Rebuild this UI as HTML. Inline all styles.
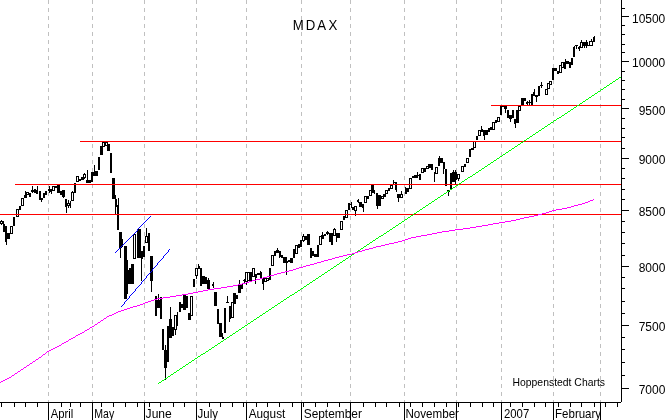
<!DOCTYPE html>
<html><head><meta charset="utf-8"><title>MDAX</title>
<style>html,body{margin:0;padding:0;background:#fff;overflow:hidden}svg{display:block}text{font-family:"Liberation Sans",Arial,sans-serif;fill:#000}</style></head><body>
<svg width="669" height="420" viewBox="0 0 669 420">
<rect x="0" y="0" width="669" height="420" fill="#fff"/>
<g shape-rendering="crispEdges" stroke="#c0c0c0" stroke-width="1" stroke-dasharray="4 4">
<line x1="48.5" y1="0" x2="48.5" y2="402"/>
<line x1="92.5" y1="0" x2="92.5" y2="402"/>
<line x1="144.5" y1="0" x2="144.5" y2="402"/>
<line x1="196.5" y1="0" x2="196.5" y2="402"/>
<line x1="246.5" y1="0" x2="246.5" y2="402"/>
<line x1="301.5" y1="0" x2="301.5" y2="402"/>
<line x1="350.5" y1="0" x2="350.5" y2="402"/>
<line x1="404.5" y1="0" x2="404.5" y2="402"/>
<line x1="456.5" y1="0" x2="456.5" y2="402"/>
<line x1="501.5" y1="0" x2="501.5" y2="402"/>
<line x1="553.5" y1="0" x2="553.5" y2="402"/>
<line x1="600.5" y1="0" x2="600.5" y2="402"/>
</g>
<g shape-rendering="crispEdges" fill="#000">
<rect x="0" y="221" width="3" height="3"/>
<rect x="1" y="220" width="1" height="5"/>
<rect x="3" y="224" width="2" height="8"/>
<rect x="3" y="221" width="1" height="11"/>
<rect x="5" y="226" width="2" height="16"/>
<rect x="6" y="226" width="1" height="19"/>
<rect x="7" y="233" width="3" height="6"/>
<rect x="8" y="233" width="1" height="6"/>
<rect x="10" y="226" width="3" height="8"/>
<rect x="11" y="226" width="1" height="8"/>
<rect x="13" y="217" width="2" height="9"/>
<rect x="14" y="217" width="1" height="9"/>
<rect x="16" y="209" width="3" height="8"/>
<rect x="17" y="209" width="1" height="8"/>
<rect x="19" y="206" width="2" height="4"/>
<rect x="20" y="206" width="1" height="4"/>
<rect x="21" y="198" width="3" height="8"/>
<rect x="22" y="198" width="1" height="8"/>
<rect x="24" y="195" width="3" height="3"/>
<rect x="25" y="191" width="1" height="7"/>
<rect x="26" y="192" width="3" height="3"/>
<rect x="27" y="192" width="1" height="3"/>
<rect x="29" y="193" width="2" height="4"/>
<rect x="30" y="193" width="1" height="4"/>
<rect x="31" y="190" width="3" height="2"/>
<rect x="32" y="186" width="1" height="7"/>
<rect x="34" y="189" width="2" height="4"/>
<rect x="34" y="189" width="1" height="4"/>
<rect x="36" y="190" width="2" height="4"/>
<rect x="37" y="186" width="1" height="8"/>
<rect x="39" y="191" width="2" height="9"/>
<rect x="40" y="191" width="1" height="9"/>
<rect x="41" y="198" width="2" height="2"/>
<rect x="41" y="198" width="1" height="4"/>
<rect x="43" y="193" width="2" height="5"/>
<rect x="44" y="193" width="1" height="5"/>
<rect x="45" y="191" width="2" height="4"/>
<rect x="46" y="191" width="1" height="4"/>
<rect x="48" y="189" width="2" height="2"/>
<rect x="49" y="186" width="1" height="7"/>
<rect x="50" y="189" width="2" height="3"/>
<rect x="51" y="189" width="1" height="5"/>
<rect x="52" y="186" width="3" height="5"/>
<rect x="53" y="186" width="1" height="5"/>
<rect x="55" y="186" width="2" height="2"/>
<rect x="56" y="186" width="1" height="2"/>
<rect x="57" y="185" width="3" height="8"/>
<rect x="58" y="185" width="1" height="8"/>
<rect x="60" y="191" width="2" height="4"/>
<rect x="61" y="191" width="1" height="4"/>
<rect x="62" y="190" width="3" height="7"/>
<rect x="63" y="190" width="1" height="8"/>
<rect x="65" y="199" width="2" height="8"/>
<rect x="66" y="199" width="1" height="14"/>
<rect x="67" y="203" width="3" height="3"/>
<rect x="68" y="200" width="1" height="8"/>
<rect x="70" y="201" width="1" height="7"/>
<rect x="71" y="192" width="3" height="9"/>
<rect x="72" y="191" width="1" height="10"/>
<rect x="74" y="183" width="2" height="10"/>
<rect x="75" y="183" width="1" height="10"/>
<rect x="76" y="176" width="3" height="6"/>
<rect x="77" y="176" width="1" height="6"/>
<rect x="79" y="179" width="2" height="2"/>
<rect x="80" y="179" width="1" height="2"/>
<rect x="81" y="177" width="3" height="3"/>
<rect x="82" y="177" width="1" height="3"/>
<rect x="83" y="174" width="3" height="4"/>
<rect x="84" y="173" width="1" height="6"/>
<rect x="86" y="180" width="2" height="3"/>
<rect x="87" y="170" width="1" height="13"/>
<rect x="88" y="180" width="3" height="3"/>
<rect x="89" y="180" width="1" height="3"/>
<rect x="91" y="172" width="2" height="10"/>
<rect x="91" y="172" width="1" height="10"/>
<rect x="93" y="172" width="2" height="4"/>
<rect x="94" y="165" width="1" height="11"/>
<rect x="95" y="171" width="3" height="5"/>
<rect x="96" y="171" width="1" height="5"/>
<rect x="98" y="157" width="2" height="13"/>
<rect x="99" y="157" width="1" height="13"/>
<rect x="100" y="146" width="3" height="9"/>
<rect x="101" y="146" width="1" height="9"/>
<rect x="102" y="142" width="3" height="5"/>
<rect x="103" y="142" width="1" height="5"/>
<rect x="105" y="142" width="3" height="4"/>
<rect x="106" y="142" width="1" height="4"/>
<rect x="107" y="144" width="3" height="7"/>
<rect x="108" y="144" width="1" height="7"/>
<rect x="110" y="153" width="2" height="20"/>
<rect x="110" y="153" width="1" height="20"/>
<rect x="112" y="178" width="3" height="21"/>
<rect x="113" y="178" width="1" height="21"/>
<rect x="115" y="199" width="2" height="8"/>
<rect x="115" y="195" width="1" height="19"/>
<rect x="117" y="205" width="2" height="25"/>
<rect x="118" y="198" width="1" height="32"/>
<rect x="119" y="232" width="3" height="16"/>
<rect x="120" y="232" width="1" height="26"/>
<rect x="122" y="239" width="1" height="8"/>
<rect x="124" y="246" width="3" height="53"/>
<rect x="125" y="246" width="1" height="53"/>
<rect x="126" y="270" width="3" height="14"/>
<rect x="127" y="260" width="1" height="34"/>
<rect x="129" y="268" width="2" height="16"/>
<rect x="129" y="268" width="1" height="16"/>
<rect x="131" y="264" width="3" height="20"/>
<rect x="132" y="264" width="1" height="20"/>
<rect x="133" y="234" width="3" height="25"/>
<rect x="134" y="234" width="1" height="25"/>
<rect x="137" y="229" width="4" height="29"/>
<rect x="139" y="229" width="1" height="29"/>
<rect x="141" y="251" width="2" height="8"/>
<rect x="141" y="251" width="1" height="30"/>
<rect x="143" y="246" width="2" height="11"/>
<rect x="144" y="246" width="1" height="11"/>
<rect x="145" y="236" width="3" height="7"/>
<rect x="146" y="228" width="1" height="15"/>
<rect x="148" y="233" width="2" height="18"/>
<rect x="148" y="233" width="1" height="18"/>
<rect x="150" y="256" width="3" height="25"/>
<rect x="151" y="256" width="1" height="36"/>
<rect x="155" y="296" width="2" height="20"/>
<rect x="156" y="296" width="1" height="20"/>
<rect x="157" y="300" width="3" height="8"/>
<rect x="158" y="294" width="1" height="14"/>
<rect x="160" y="297" width="2" height="22"/>
<rect x="160" y="297" width="1" height="22"/>
<rect x="162" y="329" width="2" height="21"/>
<rect x="163" y="329" width="1" height="21"/>
<rect x="164" y="350" width="3" height="18"/>
<rect x="165" y="345" width="1" height="35"/>
<rect x="167" y="326" width="2" height="36"/>
<rect x="168" y="326" width="1" height="36"/>
<rect x="169" y="319" width="3" height="19"/>
<rect x="170" y="307" width="1" height="31"/>
<rect x="172" y="327" width="2" height="9"/>
<rect x="172" y="327" width="1" height="9"/>
<rect x="174" y="315" width="3" height="15"/>
<rect x="175" y="315" width="1" height="20"/>
<rect x="177" y="312" width="1" height="14"/>
<rect x="179" y="302" width="2" height="10"/>
<rect x="179" y="302" width="1" height="10"/>
<rect x="181" y="304" width="2" height="4"/>
<rect x="182" y="304" width="1" height="4"/>
<rect x="183" y="295" width="3" height="15"/>
<rect x="184" y="295" width="1" height="15"/>
<rect x="186" y="296" width="2" height="12"/>
<rect x="187" y="296" width="1" height="12"/>
<rect x="188" y="313" width="3" height="7"/>
<rect x="189" y="313" width="1" height="7"/>
<rect x="190" y="296" width="3" height="20"/>
<rect x="191" y="296" width="1" height="20"/>
<rect x="193" y="279" width="2" height="8"/>
<rect x="194" y="279" width="1" height="8"/>
<rect x="195" y="268" width="3" height="8"/>
<rect x="196" y="268" width="1" height="11"/>
<rect x="198" y="266" width="2" height="3"/>
<rect x="198" y="264" width="1" height="5"/>
<rect x="200" y="268" width="2" height="18"/>
<rect x="201" y="268" width="1" height="18"/>
<rect x="202" y="276" width="3" height="8"/>
<rect x="203" y="276" width="1" height="8"/>
<rect x="205" y="277" width="2" height="7"/>
<rect x="206" y="277" width="1" height="7"/>
<rect x="207" y="280" width="3" height="9"/>
<rect x="208" y="278" width="1" height="12"/>
<rect x="212" y="284" width="2" height="2"/>
<rect x="213" y="282" width="1" height="6"/>
<rect x="214" y="292" width="3" height="14"/>
<rect x="215" y="292" width="1" height="14"/>
<rect x="217" y="309" width="2" height="15"/>
<rect x="217" y="309" width="1" height="15"/>
<rect x="219" y="323" width="3" height="14"/>
<rect x="220" y="323" width="1" height="14"/>
<rect x="222" y="337" width="2" height="2"/>
<rect x="222" y="333" width="1" height="6"/>
<rect x="224" y="308" width="2" height="25"/>
<rect x="225" y="308" width="1" height="25"/>
<rect x="226" y="302" width="3" height="1"/>
<rect x="227" y="296" width="1" height="7"/>
<rect x="229" y="306" width="2" height="13"/>
<rect x="229" y="306" width="1" height="16"/>
<rect x="231" y="302" width="3" height="16"/>
<rect x="232" y="302" width="1" height="16"/>
<rect x="233" y="293" width="3" height="11"/>
<rect x="234" y="293" width="1" height="11"/>
<rect x="236" y="295" width="2" height="4"/>
<rect x="236" y="295" width="1" height="4"/>
<rect x="238" y="284" width="3" height="9"/>
<rect x="239" y="280" width="1" height="13"/>
<rect x="241" y="284" width="2" height="5"/>
<rect x="241" y="284" width="1" height="5"/>
<rect x="243" y="280" width="2" height="1"/>
<rect x="244" y="279" width="1" height="5"/>
<rect x="245" y="272" width="3" height="10"/>
<rect x="246" y="272" width="1" height="13"/>
<rect x="247" y="272" width="3" height="9"/>
<rect x="248" y="272" width="1" height="9"/>
<rect x="250" y="272" width="2" height="9"/>
<rect x="251" y="272" width="1" height="9"/>
<rect x="252" y="268" width="3" height="9"/>
<rect x="253" y="268" width="1" height="9"/>
<rect x="255" y="274" width="2" height="4"/>
<rect x="255" y="274" width="1" height="10"/>
<rect x="257" y="273" width="3" height="2"/>
<rect x="258" y="273" width="1" height="2"/>
<rect x="260" y="272" width="2" height="6"/>
<rect x="260" y="271" width="1" height="7"/>
<rect x="262" y="278" width="2" height="6"/>
<rect x="263" y="278" width="1" height="12"/>
<rect x="264" y="278" width="3" height="4"/>
<rect x="265" y="278" width="1" height="4"/>
<rect x="266" y="278" width="3" height="3"/>
<rect x="267" y="278" width="1" height="3"/>
<rect x="269" y="268" width="2" height="12"/>
<rect x="270" y="268" width="1" height="12"/>
<rect x="271" y="255" width="3" height="11"/>
<rect x="272" y="255" width="1" height="11"/>
<rect x="274" y="251" width="2" height="5"/>
<rect x="275" y="251" width="1" height="5"/>
<rect x="276" y="250" width="3" height="3"/>
<rect x="277" y="248" width="1" height="5"/>
<rect x="279" y="251" width="2" height="6"/>
<rect x="279" y="251" width="1" height="7"/>
<rect x="281" y="255" width="2" height="3"/>
<rect x="282" y="255" width="1" height="3"/>
<rect x="283" y="257" width="3" height="6"/>
<rect x="284" y="257" width="1" height="6"/>
<rect x="286" y="261" width="2" height="2"/>
<rect x="286" y="257" width="1" height="18"/>
<rect x="288" y="260" width="2" height="2"/>
<rect x="289" y="260" width="1" height="2"/>
<rect x="290" y="258" width="3" height="5"/>
<rect x="291" y="258" width="1" height="5"/>
<rect x="293" y="249" width="2" height="9"/>
<rect x="294" y="249" width="1" height="9"/>
<rect x="295" y="245" width="3" height="9"/>
<rect x="296" y="245" width="1" height="9"/>
<rect x="298" y="244" width="2" height="4"/>
<rect x="298" y="244" width="1" height="4"/>
<rect x="300" y="240" width="2" height="7"/>
<rect x="301" y="240" width="1" height="7"/>
<rect x="302" y="236" width="3" height="5"/>
<rect x="303" y="234" width="1" height="8"/>
<rect x="305" y="236" width="2" height="4"/>
<rect x="305" y="236" width="1" height="4"/>
<rect x="307" y="234" width="3" height="11"/>
<rect x="308" y="234" width="1" height="11"/>
<rect x="310" y="248" width="2" height="10"/>
<rect x="310" y="248" width="1" height="10"/>
<rect x="312" y="251" width="2" height="5"/>
<rect x="313" y="251" width="1" height="5"/>
<rect x="314" y="254" width="3" height="3"/>
<rect x="315" y="254" width="1" height="3"/>
<rect x="317" y="245" width="2" height="12"/>
<rect x="317" y="245" width="1" height="12"/>
<rect x="319" y="236" width="3" height="9"/>
<rect x="320" y="236" width="1" height="9"/>
<rect x="321" y="235" width="3" height="4"/>
<rect x="322" y="232" width="1" height="7"/>
<rect x="324" y="234" width="2" height="2"/>
<rect x="324" y="234" width="1" height="2"/>
<rect x="326" y="232" width="3" height="2"/>
<rect x="327" y="231" width="1" height="4"/>
<rect x="329" y="233" width="2" height="9"/>
<rect x="329" y="233" width="1" height="9"/>
<rect x="331" y="233" width="2" height="12"/>
<rect x="332" y="233" width="1" height="12"/>
<rect x="333" y="229" width="3" height="7"/>
<rect x="334" y="228" width="1" height="8"/>
<rect x="336" y="233" width="2" height="5"/>
<rect x="336" y="233" width="1" height="9"/>
<rect x="338" y="233" width="2" height="5"/>
<rect x="339" y="233" width="1" height="5"/>
<rect x="340" y="221" width="3" height="9"/>
<rect x="341" y="221" width="1" height="9"/>
<rect x="343" y="216" width="2" height="4"/>
<rect x="343" y="216" width="1" height="4"/>
<rect x="345" y="210" width="3" height="8"/>
<rect x="346" y="210" width="1" height="8"/>
<rect x="348" y="203" width="2" height="7"/>
<rect x="348" y="203" width="1" height="7"/>
<rect x="350" y="204" width="2" height="1"/>
<rect x="351" y="202" width="1" height="6"/>
<rect x="352" y="207" width="3" height="3"/>
<rect x="353" y="207" width="1" height="3"/>
<rect x="354" y="206" width="3" height="5"/>
<rect x="355" y="206" width="1" height="10"/>
<rect x="357" y="200" width="2" height="2"/>
<rect x="358" y="199" width="1" height="4"/>
<rect x="359" y="202" width="3" height="5"/>
<rect x="360" y="202" width="1" height="5"/>
<rect x="362" y="204" width="2" height="4"/>
<rect x="363" y="204" width="1" height="8"/>
<rect x="364" y="196" width="3" height="7"/>
<rect x="365" y="196" width="1" height="7"/>
<rect x="367" y="196" width="2" height="3"/>
<rect x="367" y="196" width="1" height="3"/>
<rect x="369" y="190" width="3" height="6"/>
<rect x="370" y="190" width="1" height="6"/>
<rect x="371" y="185" width="3" height="8"/>
<rect x="372" y="185" width="1" height="8"/>
<rect x="374" y="190" width="1" height="4"/>
<rect x="376" y="193" width="2" height="13"/>
<rect x="377" y="193" width="1" height="16"/>
<rect x="378" y="195" width="3" height="11"/>
<rect x="379" y="195" width="1" height="11"/>
<rect x="381" y="196" width="3" height="3"/>
<rect x="382" y="196" width="1" height="3"/>
<rect x="383" y="194" width="3" height="3"/>
<rect x="384" y="194" width="1" height="3"/>
<rect x="385" y="190" width="3" height="4"/>
<rect x="386" y="190" width="1" height="4"/>
<rect x="388" y="188" width="2" height="3"/>
<rect x="389" y="188" width="1" height="3"/>
<rect x="390" y="185" width="3" height="4"/>
<rect x="391" y="185" width="1" height="4"/>
<rect x="393" y="182" width="2" height="1"/>
<rect x="393" y="180" width="1" height="4"/>
<rect x="395" y="182" width="2" height="8"/>
<rect x="396" y="182" width="1" height="10"/>
<rect x="397" y="194" width="3" height="4"/>
<rect x="398" y="194" width="1" height="8"/>
<rect x="400" y="194" width="3" height="4"/>
<rect x="401" y="191" width="1" height="7"/>
<rect x="405" y="188" width="2" height="6"/>
<rect x="405" y="187" width="1" height="7"/>
<rect x="407" y="188" width="2" height="4"/>
<rect x="408" y="188" width="1" height="4"/>
<rect x="409" y="178" width="3" height="11"/>
<rect x="410" y="178" width="1" height="11"/>
<rect x="412" y="176" width="2" height="2"/>
<rect x="412" y="176" width="1" height="2"/>
<rect x="414" y="175" width="3" height="3"/>
<rect x="415" y="175" width="1" height="3"/>
<rect x="417" y="175" width="2" height="1"/>
<rect x="417" y="172" width="1" height="6"/>
<rect x="419" y="174" width="2" height="6"/>
<rect x="420" y="174" width="1" height="6"/>
<rect x="421" y="168" width="3" height="5"/>
<rect x="422" y="168" width="1" height="5"/>
<rect x="424" y="168" width="2" height="4"/>
<rect x="424" y="168" width="1" height="4"/>
<rect x="426" y="166" width="3" height="3"/>
<rect x="427" y="166" width="1" height="3"/>
<rect x="428" y="164" width="3" height="4"/>
<rect x="429" y="164" width="1" height="4"/>
<rect x="431" y="164" width="2" height="6"/>
<rect x="431" y="164" width="1" height="6"/>
<rect x="434" y="172" width="1" height="10"/>
<rect x="435" y="167" width="3" height="7"/>
<rect x="436" y="167" width="1" height="7"/>
<rect x="438" y="158" width="2" height="8"/>
<rect x="439" y="156" width="1" height="10"/>
<rect x="440" y="158" width="3" height="5"/>
<rect x="441" y="158" width="1" height="5"/>
<rect x="443" y="162" width="2" height="7"/>
<rect x="443" y="162" width="1" height="12"/>
<rect x="445" y="169" width="2" height="17"/>
<rect x="446" y="169" width="1" height="17"/>
<rect x="447" y="190" width="3" height="2"/>
<rect x="448" y="190" width="1" height="6"/>
<rect x="450" y="173" width="2" height="17"/>
<rect x="450" y="173" width="1" height="17"/>
<rect x="452" y="172" width="3" height="10"/>
<rect x="453" y="170" width="1" height="12"/>
<rect x="455" y="172" width="2" height="8"/>
<rect x="455" y="170" width="1" height="14"/>
<rect x="457" y="174" width="3" height="5"/>
<rect x="458" y="174" width="1" height="7"/>
<rect x="461" y="166" width="3" height="6"/>
<rect x="462" y="166" width="1" height="6"/>
<rect x="464" y="164" width="2" height="3"/>
<rect x="465" y="164" width="1" height="3"/>
<rect x="466" y="158" width="3" height="5"/>
<rect x="467" y="158" width="1" height="5"/>
<rect x="469" y="149" width="2" height="8"/>
<rect x="470" y="149" width="1" height="8"/>
<rect x="471" y="148" width="3" height="2"/>
<rect x="472" y="148" width="1" height="2"/>
<rect x="473" y="141" width="3" height="7"/>
<rect x="474" y="141" width="1" height="7"/>
<rect x="476" y="136" width="2" height="4"/>
<rect x="477" y="136" width="1" height="4"/>
<rect x="478" y="130" width="3" height="6"/>
<rect x="479" y="130" width="1" height="6"/>
<rect x="481" y="129" width="2" height="3"/>
<rect x="481" y="126" width="1" height="6"/>
<rect x="483" y="130" width="2" height="6"/>
<rect x="484" y="130" width="1" height="10"/>
<rect x="485" y="130" width="3" height="5"/>
<rect x="486" y="130" width="1" height="5"/>
<rect x="488" y="128" width="2" height="4"/>
<rect x="489" y="128" width="1" height="4"/>
<rect x="490" y="127" width="3" height="3"/>
<rect x="491" y="127" width="1" height="3"/>
<rect x="492" y="122" width="3" height="8"/>
<rect x="493" y="122" width="1" height="8"/>
<rect x="495" y="120" width="2" height="3"/>
<rect x="496" y="120" width="1" height="3"/>
<rect x="497" y="117" width="3" height="5"/>
<rect x="498" y="117" width="1" height="5"/>
<rect x="500" y="105" width="2" height="10"/>
<rect x="500" y="105" width="1" height="10"/>
<rect x="502" y="105" width="2" height="2"/>
<rect x="503" y="105" width="1" height="2"/>
<rect x="504" y="106" width="3" height="3"/>
<rect x="505" y="106" width="1" height="7"/>
<rect x="507" y="110" width="2" height="8"/>
<rect x="508" y="110" width="1" height="8"/>
<rect x="509" y="115" width="3" height="4"/>
<rect x="510" y="115" width="1" height="7"/>
<rect x="512" y="110" width="2" height="8"/>
<rect x="512" y="110" width="1" height="8"/>
<rect x="514" y="119" width="2" height="5"/>
<rect x="515" y="119" width="1" height="9"/>
<rect x="516" y="110" width="3" height="13"/>
<rect x="517" y="110" width="1" height="13"/>
<rect x="518" y="106" width="3" height="5"/>
<rect x="519" y="106" width="1" height="5"/>
<rect x="521" y="98" width="3" height="8"/>
<rect x="522" y="98" width="1" height="8"/>
<rect x="524" y="98" width="2" height="3"/>
<rect x="524" y="98" width="1" height="3"/>
<rect x="526" y="102" width="2" height="2"/>
<rect x="527" y="101" width="1" height="4"/>
<rect x="528" y="102" width="3" height="1"/>
<rect x="529" y="100" width="1" height="5"/>
<rect x="531" y="94" width="2" height="11"/>
<rect x="531" y="94" width="1" height="11"/>
<rect x="533" y="92" width="2" height="4"/>
<rect x="534" y="89" width="1" height="7"/>
<rect x="535" y="95" width="3" height="2"/>
<rect x="536" y="95" width="1" height="7"/>
<rect x="538" y="86" width="2" height="10"/>
<rect x="538" y="86" width="1" height="10"/>
<rect x="540" y="85" width="3" height="1"/>
<rect x="541" y="82" width="1" height="6"/>
<rect x="545" y="89" width="3" height="6"/>
<rect x="546" y="89" width="1" height="6"/>
<rect x="547" y="83" width="3" height="6"/>
<rect x="548" y="83" width="1" height="6"/>
<rect x="549" y="81" width="3" height="4"/>
<rect x="550" y="81" width="1" height="4"/>
<rect x="552" y="68" width="2" height="12"/>
<rect x="553" y="68" width="1" height="12"/>
<rect x="554" y="68" width="3" height="3"/>
<rect x="555" y="68" width="1" height="3"/>
<rect x="557" y="71" width="2" height="3"/>
<rect x="558" y="71" width="1" height="3"/>
<rect x="559" y="65" width="3" height="8"/>
<rect x="560" y="65" width="1" height="8"/>
<rect x="561" y="62" width="3" height="6"/>
<rect x="562" y="62" width="1" height="6"/>
<rect x="564" y="62" width="2" height="7"/>
<rect x="565" y="59" width="1" height="10"/>
<rect x="566" y="61" width="3" height="3"/>
<rect x="567" y="61" width="1" height="3"/>
<rect x="569" y="62" width="2" height="6"/>
<rect x="569" y="62" width="1" height="6"/>
<rect x="571" y="58" width="2" height="7"/>
<rect x="572" y="58" width="1" height="7"/>
<rect x="1" y="222" width="1" height="1" fill="#fff"/>
<rect x="11" y="227" width="1" height="6" fill="#fff"/>
<rect x="17" y="210" width="1" height="6" fill="#fff"/>
<rect x="22" y="199" width="1" height="6" fill="#fff"/>
<rect x="27" y="193" width="1" height="1" fill="#fff"/>
<rect x="53" y="187" width="1" height="3" fill="#fff"/>
<rect x="68" y="204" width="1" height="1" fill="#fff"/>
<rect x="72" y="193" width="1" height="7" fill="#fff"/>
<rect x="77" y="177" width="1" height="4" fill="#fff"/>
<rect x="84" y="175" width="1" height="2" fill="#fff"/>
<rect x="103" y="143" width="1" height="3" fill="#fff"/>
<rect x="106" y="143" width="1" height="2" fill="#fff"/>
<rect x="134" y="235" width="1" height="23" fill="#fff"/>
<rect x="146" y="237" width="1" height="5" fill="#fff"/>
<rect x="175" y="316" width="1" height="13" fill="#fff"/>
<rect x="191" y="297" width="1" height="18" fill="#fff"/>
<rect x="196" y="269" width="1" height="6" fill="#fff"/>
<rect x="232" y="303" width="1" height="14" fill="#fff"/>
<rect x="246" y="273" width="1" height="8" fill="#fff"/>
<rect x="248" y="273" width="1" height="7" fill="#fff"/>
<rect x="253" y="269" width="1" height="7" fill="#fff"/>
<rect x="265" y="279" width="1" height="2" fill="#fff"/>
<rect x="267" y="279" width="1" height="1" fill="#fff"/>
<rect x="272" y="256" width="1" height="9" fill="#fff"/>
<rect x="296" y="246" width="1" height="7" fill="#fff"/>
<rect x="303" y="237" width="1" height="3" fill="#fff"/>
<rect x="320" y="237" width="1" height="7" fill="#fff"/>
<rect x="334" y="230" width="1" height="5" fill="#fff"/>
<rect x="341" y="222" width="1" height="7" fill="#fff"/>
<rect x="346" y="211" width="1" height="6" fill="#fff"/>
<rect x="355" y="207" width="1" height="3" fill="#fff"/>
<rect x="365" y="197" width="1" height="5" fill="#fff"/>
<rect x="370" y="191" width="1" height="4" fill="#fff"/>
<rect x="382" y="197" width="1" height="1" fill="#fff"/>
<rect x="386" y="191" width="1" height="2" fill="#fff"/>
<rect x="391" y="186" width="1" height="2" fill="#fff"/>
<rect x="401" y="195" width="1" height="2" fill="#fff"/>
<rect x="410" y="179" width="1" height="9" fill="#fff"/>
<rect x="422" y="169" width="1" height="3" fill="#fff"/>
<rect x="427" y="167" width="1" height="1" fill="#fff"/>
<rect x="436" y="168" width="1" height="5" fill="#fff"/>
<rect x="458" y="175" width="1" height="3" fill="#fff"/>
<rect x="462" y="167" width="1" height="4" fill="#fff"/>
<rect x="467" y="159" width="1" height="3" fill="#fff"/>
<rect x="474" y="142" width="1" height="5" fill="#fff"/>
<rect x="479" y="131" width="1" height="4" fill="#fff"/>
<rect x="493" y="123" width="1" height="6" fill="#fff"/>
<rect x="498" y="118" width="1" height="3" fill="#fff"/>
<rect x="519" y="107" width="1" height="3" fill="#fff"/>
<rect x="546" y="90" width="1" height="4" fill="#fff"/>
<rect x="548" y="84" width="1" height="4" fill="#fff"/>
<rect x="550" y="82" width="1" height="2" fill="#fff"/>
<rect x="560" y="66" width="1" height="6" fill="#fff"/>
<rect x="562" y="63" width="1" height="4" fill="#fff"/>
<rect x="573" y="47" width="1" height="10"/>
<rect x="574" y="46" width="1" height="11"/>
<rect x="575" y="45" width="3" height="1"/>
<rect x="576" y="46" width="1" height="3"/>
<rect x="578" y="47" width="1" height="2"/>
<rect x="579" y="46" width="1" height="5"/>
<rect x="580" y="42" width="3" height="6"/>
<rect x="581" y="43" width="1" height="4" fill="#fff"/>
<rect x="581" y="40" width="1" height="2"/>
<rect x="583" y="42" width="1" height="4"/>
<rect x="584" y="42" width="1" height="6"/>
<rect x="585" y="42" width="1" height="4"/>
<rect x="586" y="40" width="1" height="8"/>
<rect x="587" y="42" width="1" height="4"/>
<rect x="588" y="45" width="1" height="1"/>
<rect x="589" y="41" width="4" height="5"/>
<rect x="590" y="42" width="2" height="3" fill="#fff"/>
<rect x="591" y="39" width="1" height="2"/>
<rect x="593" y="37" width="1" height="5"/>
<rect x="594" y="36" width="1" height="6"/>
</g>
<g shape-rendering="crispEdges" fill="#f00">
<rect x="491" y="105" width="130" height="1"/>
<rect x="80" y="141" width="541" height="1"/>
<rect x="15" y="184" width="606" height="1"/>
<rect x="0" y="214" width="621" height="1"/>
</g>
<g fill="#00ff00" shape-rendering="crispEdges"><rect x="158" y="383" width="1" height="1"/><rect x="159" y="382" width="2" height="1"/><rect x="161" y="381" width="1" height="1"/><rect x="162" y="380" width="2" height="1"/><rect x="164" y="379" width="1" height="1"/><rect x="165" y="378" width="2" height="1"/><rect x="167" y="377" width="1" height="1"/><rect x="168" y="376" width="2" height="1"/><rect x="170" y="375" width="1" height="1"/><rect x="171" y="374" width="2" height="1"/><rect x="173" y="373" width="1" height="1"/><rect x="174" y="372" width="2" height="1"/><rect x="176" y="371" width="1" height="1"/><rect x="177" y="370" width="2" height="1"/><rect x="179" y="369" width="1" height="1"/><rect x="180" y="368" width="2" height="1"/><rect x="182" y="367" width="1" height="1"/><rect x="183" y="366" width="2" height="1"/><rect x="185" y="365" width="1" height="1"/><rect x="186" y="364" width="2" height="1"/><rect x="188" y="363" width="1" height="1"/><rect x="189" y="362" width="2" height="1"/><rect x="191" y="361" width="1" height="1"/><rect x="192" y="360" width="2" height="1"/><rect x="194" y="359" width="1" height="1"/><rect x="195" y="358" width="2" height="1"/><rect x="197" y="357" width="1" height="1"/><rect x="198" y="356" width="2" height="1"/><rect x="200" y="355" width="1" height="1"/><rect x="201" y="354" width="2" height="1"/><rect x="203" y="353" width="2" height="1"/><rect x="205" y="352" width="1" height="1"/><rect x="206" y="351" width="2" height="1"/><rect x="208" y="350" width="1" height="1"/><rect x="209" y="349" width="2" height="1"/><rect x="211" y="348" width="1" height="1"/><rect x="212" y="347" width="2" height="1"/><rect x="214" y="346" width="1" height="1"/><rect x="215" y="345" width="2" height="1"/><rect x="217" y="344" width="1" height="1"/><rect x="218" y="343" width="2" height="1"/><rect x="220" y="342" width="1" height="1"/><rect x="221" y="341" width="2" height="1"/><rect x="223" y="340" width="1" height="1"/><rect x="224" y="339" width="2" height="1"/><rect x="226" y="338" width="1" height="1"/><rect x="227" y="337" width="2" height="1"/><rect x="229" y="336" width="1" height="1"/><rect x="230" y="335" width="2" height="1"/><rect x="232" y="334" width="1" height="1"/><rect x="233" y="333" width="2" height="1"/><rect x="235" y="332" width="1" height="1"/><rect x="236" y="331" width="2" height="1"/><rect x="238" y="330" width="1" height="1"/><rect x="239" y="329" width="2" height="1"/><rect x="241" y="328" width="1" height="1"/><rect x="242" y="327" width="2" height="1"/><rect x="244" y="326" width="1" height="1"/><rect x="245" y="325" width="2" height="1"/><rect x="247" y="324" width="1" height="1"/><rect x="248" y="323" width="2" height="1"/><rect x="250" y="322" width="1" height="1"/><rect x="251" y="321" width="2" height="1"/><rect x="253" y="320" width="1" height="1"/><rect x="254" y="319" width="2" height="1"/><rect x="256" y="318" width="1" height="1"/><rect x="257" y="317" width="2" height="1"/><rect x="259" y="316" width="1" height="1"/><rect x="260" y="315" width="2" height="1"/><rect x="262" y="314" width="1" height="1"/><rect x="263" y="313" width="2" height="1"/><rect x="265" y="312" width="1" height="1"/><rect x="266" y="311" width="2" height="1"/><rect x="268" y="310" width="1" height="1"/><rect x="269" y="309" width="2" height="1"/><rect x="271" y="308" width="1" height="1"/><rect x="272" y="307" width="2" height="1"/><rect x="274" y="306" width="1" height="1"/><rect x="275" y="305" width="2" height="1"/><rect x="277" y="304" width="1" height="1"/><rect x="278" y="303" width="2" height="1"/><rect x="280" y="302" width="1" height="1"/><rect x="281" y="301" width="2" height="1"/><rect x="283" y="300" width="1" height="1"/><rect x="284" y="299" width="2" height="1"/><rect x="286" y="298" width="1" height="1"/><rect x="287" y="297" width="2" height="1"/><rect x="289" y="296" width="1" height="1"/><rect x="290" y="295" width="2" height="1"/><rect x="292" y="294" width="2" height="1"/><rect x="294" y="293" width="1" height="1"/><rect x="295" y="292" width="2" height="1"/><rect x="297" y="291" width="1" height="1"/><rect x="298" y="290" width="2" height="1"/><rect x="300" y="289" width="1" height="1"/><rect x="301" y="288" width="2" height="1"/><rect x="303" y="287" width="1" height="1"/><rect x="304" y="286" width="2" height="1"/><rect x="306" y="285" width="1" height="1"/><rect x="307" y="284" width="2" height="1"/><rect x="309" y="283" width="1" height="1"/><rect x="310" y="282" width="2" height="1"/><rect x="312" y="281" width="1" height="1"/><rect x="313" y="280" width="2" height="1"/><rect x="315" y="279" width="1" height="1"/><rect x="316" y="278" width="2" height="1"/><rect x="318" y="277" width="1" height="1"/><rect x="319" y="276" width="2" height="1"/><rect x="321" y="275" width="1" height="1"/><rect x="322" y="274" width="2" height="1"/><rect x="324" y="273" width="1" height="1"/><rect x="325" y="272" width="2" height="1"/><rect x="327" y="271" width="1" height="1"/><rect x="328" y="270" width="2" height="1"/><rect x="330" y="269" width="1" height="1"/><rect x="331" y="268" width="2" height="1"/><rect x="333" y="267" width="1" height="1"/><rect x="334" y="266" width="2" height="1"/><rect x="336" y="265" width="1" height="1"/><rect x="337" y="264" width="2" height="1"/><rect x="339" y="263" width="1" height="1"/><rect x="340" y="262" width="2" height="1"/><rect x="342" y="261" width="1" height="1"/><rect x="343" y="260" width="2" height="1"/><rect x="345" y="259" width="1" height="1"/><rect x="346" y="258" width="2" height="1"/><rect x="348" y="257" width="1" height="1"/><rect x="349" y="256" width="2" height="1"/><rect x="351" y="255" width="1" height="1"/><rect x="352" y="254" width="2" height="1"/><rect x="354" y="253" width="1" height="1"/><rect x="355" y="252" width="2" height="1"/><rect x="357" y="251" width="1" height="1"/><rect x="358" y="250" width="2" height="1"/><rect x="360" y="249" width="1" height="1"/><rect x="361" y="248" width="2" height="1"/><rect x="363" y="247" width="1" height="1"/><rect x="364" y="246" width="2" height="1"/><rect x="366" y="245" width="1" height="1"/><rect x="367" y="244" width="2" height="1"/><rect x="369" y="243" width="1" height="1"/><rect x="370" y="242" width="2" height="1"/><rect x="372" y="241" width="1" height="1"/><rect x="373" y="240" width="2" height="1"/><rect x="375" y="239" width="1" height="1"/><rect x="376" y="238" width="2" height="1"/><rect x="378" y="237" width="1" height="1"/><rect x="379" y="236" width="2" height="1"/><rect x="381" y="235" width="2" height="1"/><rect x="383" y="234" width="1" height="1"/><rect x="384" y="233" width="2" height="1"/><rect x="386" y="232" width="1" height="1"/><rect x="387" y="231" width="2" height="1"/><rect x="389" y="230" width="1" height="1"/><rect x="390" y="229" width="2" height="1"/><rect x="392" y="228" width="1" height="1"/><rect x="393" y="227" width="2" height="1"/><rect x="395" y="226" width="1" height="1"/><rect x="396" y="225" width="2" height="1"/><rect x="398" y="224" width="1" height="1"/><rect x="399" y="223" width="2" height="1"/><rect x="401" y="222" width="1" height="1"/><rect x="402" y="221" width="2" height="1"/><rect x="404" y="220" width="1" height="1"/><rect x="405" y="219" width="2" height="1"/><rect x="407" y="218" width="1" height="1"/><rect x="408" y="217" width="2" height="1"/><rect x="410" y="216" width="1" height="1"/><rect x="411" y="215" width="2" height="1"/><rect x="413" y="214" width="1" height="1"/><rect x="414" y="213" width="2" height="1"/><rect x="416" y="212" width="1" height="1"/><rect x="417" y="211" width="2" height="1"/><rect x="419" y="210" width="1" height="1"/><rect x="420" y="209" width="2" height="1"/><rect x="422" y="208" width="1" height="1"/><rect x="423" y="207" width="2" height="1"/><rect x="425" y="206" width="1" height="1"/><rect x="426" y="205" width="2" height="1"/><rect x="428" y="204" width="1" height="1"/><rect x="429" y="203" width="2" height="1"/><rect x="431" y="202" width="1" height="1"/><rect x="432" y="201" width="2" height="1"/><rect x="434" y="200" width="1" height="1"/><rect x="435" y="199" width="2" height="1"/><rect x="437" y="198" width="1" height="1"/><rect x="438" y="197" width="2" height="1"/><rect x="440" y="196" width="1" height="1"/><rect x="441" y="195" width="2" height="1"/><rect x="443" y="194" width="1" height="1"/><rect x="444" y="193" width="2" height="1"/><rect x="446" y="192" width="1" height="1"/><rect x="447" y="191" width="2" height="1"/><rect x="449" y="190" width="1" height="1"/><rect x="450" y="189" width="2" height="1"/><rect x="452" y="188" width="1" height="1"/><rect x="453" y="187" width="2" height="1"/><rect x="455" y="186" width="1" height="1"/><rect x="456" y="185" width="2" height="1"/><rect x="458" y="184" width="1" height="1"/><rect x="459" y="183" width="2" height="1"/><rect x="461" y="182" width="1" height="1"/><rect x="462" y="181" width="2" height="1"/><rect x="464" y="180" width="1" height="1"/><rect x="465" y="179" width="2" height="1"/><rect x="467" y="178" width="1" height="1"/><rect x="468" y="177" width="2" height="1"/><rect x="470" y="176" width="2" height="1"/><rect x="472" y="175" width="1" height="1"/><rect x="473" y="174" width="2" height="1"/><rect x="475" y="173" width="1" height="1"/><rect x="476" y="172" width="2" height="1"/><rect x="478" y="171" width="1" height="1"/><rect x="479" y="170" width="2" height="1"/><rect x="481" y="169" width="1" height="1"/><rect x="482" y="168" width="2" height="1"/><rect x="484" y="167" width="1" height="1"/><rect x="485" y="166" width="2" height="1"/><rect x="487" y="165" width="1" height="1"/><rect x="488" y="164" width="2" height="1"/><rect x="490" y="163" width="1" height="1"/><rect x="491" y="162" width="2" height="1"/><rect x="493" y="161" width="1" height="1"/><rect x="494" y="160" width="2" height="1"/><rect x="496" y="159" width="1" height="1"/><rect x="497" y="158" width="2" height="1"/><rect x="499" y="157" width="1" height="1"/><rect x="500" y="156" width="2" height="1"/><rect x="502" y="155" width="1" height="1"/><rect x="503" y="154" width="2" height="1"/><rect x="505" y="153" width="1" height="1"/><rect x="506" y="152" width="2" height="1"/><rect x="508" y="151" width="1" height="1"/><rect x="509" y="150" width="2" height="1"/><rect x="511" y="149" width="1" height="1"/><rect x="512" y="148" width="2" height="1"/><rect x="514" y="147" width="1" height="1"/><rect x="515" y="146" width="2" height="1"/><rect x="517" y="145" width="1" height="1"/><rect x="518" y="144" width="2" height="1"/><rect x="520" y="143" width="1" height="1"/><rect x="521" y="142" width="2" height="1"/><rect x="523" y="141" width="1" height="1"/><rect x="524" y="140" width="2" height="1"/><rect x="526" y="139" width="1" height="1"/><rect x="527" y="138" width="2" height="1"/><rect x="529" y="137" width="1" height="1"/><rect x="530" y="136" width="2" height="1"/><rect x="532" y="135" width="1" height="1"/><rect x="533" y="134" width="2" height="1"/><rect x="535" y="133" width="1" height="1"/><rect x="536" y="132" width="2" height="1"/><rect x="538" y="131" width="1" height="1"/><rect x="539" y="130" width="2" height="1"/><rect x="541" y="129" width="1" height="1"/><rect x="542" y="128" width="2" height="1"/><rect x="544" y="127" width="1" height="1"/><rect x="545" y="126" width="2" height="1"/><rect x="547" y="125" width="1" height="1"/><rect x="548" y="124" width="2" height="1"/><rect x="550" y="123" width="1" height="1"/><rect x="551" y="122" width="2" height="1"/><rect x="553" y="121" width="1" height="1"/><rect x="554" y="120" width="2" height="1"/><rect x="556" y="119" width="1" height="1"/><rect x="557" y="118" width="2" height="1"/><rect x="559" y="117" width="2" height="1"/><rect x="561" y="116" width="1" height="1"/><rect x="562" y="115" width="2" height="1"/><rect x="564" y="114" width="1" height="1"/><rect x="565" y="113" width="2" height="1"/><rect x="567" y="112" width="1" height="1"/><rect x="568" y="111" width="2" height="1"/><rect x="570" y="110" width="1" height="1"/><rect x="571" y="109" width="2" height="1"/><rect x="573" y="108" width="1" height="1"/><rect x="574" y="107" width="2" height="1"/><rect x="576" y="106" width="1" height="1"/><rect x="577" y="105" width="2" height="1"/><rect x="579" y="104" width="1" height="1"/><rect x="580" y="103" width="2" height="1"/><rect x="582" y="102" width="1" height="1"/><rect x="583" y="101" width="2" height="1"/><rect x="585" y="100" width="1" height="1"/><rect x="586" y="99" width="2" height="1"/><rect x="588" y="98" width="1" height="1"/><rect x="589" y="97" width="2" height="1"/><rect x="591" y="96" width="1" height="1"/><rect x="592" y="95" width="2" height="1"/><rect x="594" y="94" width="1" height="1"/><rect x="595" y="93" width="2" height="1"/><rect x="597" y="92" width="1" height="1"/><rect x="598" y="91" width="2" height="1"/><rect x="600" y="90" width="1" height="1"/><rect x="601" y="89" width="2" height="1"/><rect x="603" y="88" width="1" height="1"/><rect x="604" y="87" width="2" height="1"/><rect x="606" y="86" width="1" height="1"/><rect x="607" y="85" width="2" height="1"/><rect x="609" y="84" width="1" height="1"/><rect x="610" y="83" width="2" height="1"/><rect x="612" y="82" width="1" height="1"/><rect x="613" y="81" width="2" height="1"/><rect x="615" y="80" width="1" height="1"/><rect x="616" y="79" width="2" height="1"/><rect x="618" y="78" width="1" height="1"/><rect x="619" y="77" width="2" height="1"/></g>
<g fill="#0000ff" shape-rendering="crispEdges"><rect x="150" y="216" width="1" height="1"/><rect x="149" y="217" width="1" height="1"/><rect x="148" y="218" width="1" height="1"/><rect x="147" y="219" width="1" height="1"/><rect x="146" y="220" width="1" height="1"/><rect x="145" y="221" width="1" height="1"/><rect x="144" y="222" width="1" height="1"/><rect x="143" y="223" width="1" height="1"/><rect x="142" y="224" width="1" height="1"/><rect x="141" y="225" width="1" height="1"/><rect x="140" y="226" width="1" height="1"/><rect x="139" y="227" width="1" height="1"/><rect x="138" y="228" width="1" height="1"/><rect x="137" y="229" width="1" height="2"/><rect x="136" y="231" width="1" height="1"/><rect x="135" y="232" width="1" height="1"/><rect x="134" y="233" width="1" height="1"/><rect x="133" y="234" width="1" height="1"/><rect x="132" y="235" width="1" height="1"/><rect x="131" y="236" width="1" height="1"/><rect x="130" y="237" width="1" height="1"/><rect x="129" y="238" width="1" height="1"/><rect x="128" y="239" width="1" height="1"/><rect x="127" y="240" width="1" height="1"/><rect x="126" y="241" width="1" height="1"/><rect x="125" y="242" width="1" height="1"/><rect x="124" y="243" width="1" height="1"/><rect x="123" y="244" width="1" height="1"/><rect x="122" y="245" width="1" height="1"/><rect x="121" y="246" width="1" height="1"/><rect x="120" y="247" width="1" height="1"/><rect x="119" y="248" width="1" height="1"/><rect x="118" y="249" width="1" height="1"/><rect x="117" y="250" width="1" height="1"/><rect x="116" y="251" width="1" height="1"/><rect x="115" y="252" width="1" height="1"/></g>
<g fill="#0000ff" shape-rendering="crispEdges"><rect x="169" y="249" width="1" height="1"/><rect x="168" y="250" width="1" height="2"/><rect x="167" y="252" width="1" height="1"/><rect x="166" y="253" width="1" height="1"/><rect x="165" y="254" width="1" height="1"/><rect x="164" y="255" width="1" height="1"/><rect x="163" y="256" width="1" height="2"/><rect x="162" y="258" width="1" height="1"/><rect x="161" y="259" width="1" height="1"/><rect x="160" y="260" width="1" height="1"/><rect x="159" y="261" width="1" height="1"/><rect x="158" y="262" width="1" height="1"/><rect x="157" y="263" width="1" height="2"/><rect x="156" y="265" width="1" height="1"/><rect x="155" y="266" width="1" height="1"/><rect x="154" y="267" width="1" height="1"/><rect x="153" y="268" width="1" height="1"/><rect x="152" y="269" width="1" height="2"/><rect x="151" y="271" width="1" height="1"/><rect x="150" y="272" width="1" height="1"/><rect x="149" y="273" width="1" height="1"/><rect x="148" y="274" width="1" height="1"/><rect x="147" y="275" width="1" height="1"/><rect x="146" y="276" width="1" height="2"/><rect x="145" y="278" width="1" height="1"/><rect x="144" y="279" width="1" height="1"/><rect x="143" y="280" width="1" height="1"/><rect x="142" y="281" width="1" height="1"/><rect x="141" y="282" width="1" height="2"/><rect x="140" y="284" width="1" height="1"/><rect x="139" y="285" width="1" height="1"/><rect x="138" y="286" width="1" height="1"/><rect x="137" y="287" width="1" height="1"/><rect x="136" y="288" width="1" height="1"/><rect x="135" y="289" width="1" height="2"/><rect x="134" y="291" width="1" height="1"/><rect x="133" y="292" width="1" height="1"/><rect x="132" y="293" width="1" height="1"/><rect x="131" y="294" width="1" height="1"/><rect x="130" y="295" width="1" height="1"/><rect x="129" y="296" width="1" height="2"/><rect x="128" y="298" width="1" height="1"/><rect x="127" y="299" width="1" height="1"/><rect x="126" y="300" width="1" height="1"/><rect x="125" y="301" width="1" height="1"/><rect x="124" y="302" width="1" height="2"/><rect x="123" y="304" width="1" height="1"/><rect x="122" y="305" width="1" height="1"/><rect x="121" y="306" width="1" height="1"/></g>
<g fill="#ff00ff" shape-rendering="crispEdges"><rect x="0" y="382" width="1" height="1"/><rect x="1" y="381" width="2" height="1"/><rect x="3" y="380" width="2" height="1"/><rect x="5" y="379" width="2" height="1"/><rect x="7" y="378" width="2" height="1"/><rect x="9" y="377" width="2" height="1"/><rect x="11" y="376" width="1" height="1"/><rect x="12" y="375" width="2" height="1"/><rect x="14" y="374" width="1" height="1"/><rect x="15" y="373" width="2" height="1"/><rect x="17" y="372" width="1" height="1"/><rect x="18" y="371" width="2" height="1"/><rect x="20" y="370" width="1" height="1"/><rect x="21" y="369" width="2" height="1"/><rect x="23" y="368" width="1" height="1"/><rect x="24" y="367" width="2" height="1"/><rect x="26" y="366" width="1" height="1"/><rect x="27" y="365" width="2" height="1"/><rect x="29" y="364" width="1" height="1"/><rect x="30" y="363" width="2" height="1"/><rect x="32" y="362" width="1" height="1"/><rect x="33" y="361" width="2" height="1"/><rect x="35" y="360" width="1" height="1"/><rect x="36" y="359" width="2" height="1"/><rect x="38" y="358" width="1" height="1"/><rect x="39" y="357" width="2" height="1"/><rect x="41" y="356" width="1" height="1"/><rect x="42" y="355" width="1" height="1"/><rect x="43" y="354" width="2" height="1"/><rect x="45" y="353" width="1" height="1"/><rect x="46" y="352" width="1" height="1"/><rect x="47" y="351" width="2" height="1"/><rect x="49" y="350" width="2" height="1"/><rect x="51" y="349" width="2" height="1"/><rect x="53" y="348" width="2" height="1"/><rect x="55" y="347" width="2" height="1"/><rect x="57" y="346" width="2" height="1"/><rect x="59" y="345" width="2" height="1"/><rect x="61" y="344" width="1" height="1"/><rect x="62" y="343" width="2" height="1"/><rect x="64" y="342" width="2" height="1"/><rect x="66" y="341" width="2" height="1"/><rect x="68" y="340" width="1" height="1"/><rect x="69" y="339" width="2" height="1"/><rect x="71" y="338" width="2" height="1"/><rect x="73" y="337" width="2" height="1"/><rect x="75" y="336" width="1" height="1"/><rect x="76" y="335" width="2" height="1"/><rect x="78" y="334" width="2" height="1"/><rect x="80" y="333" width="2" height="1"/><rect x="82" y="332" width="2" height="1"/><rect x="84" y="331" width="1" height="1"/><rect x="85" y="330" width="2" height="1"/><rect x="87" y="329" width="2" height="1"/><rect x="89" y="328" width="1" height="1"/><rect x="90" y="327" width="2" height="1"/><rect x="92" y="326" width="2" height="1"/><rect x="94" y="325" width="1" height="1"/><rect x="95" y="324" width="2" height="1"/><rect x="97" y="323" width="1" height="1"/><rect x="98" y="322" width="2" height="1"/><rect x="100" y="321" width="1" height="1"/><rect x="101" y="320" width="2" height="1"/><rect x="103" y="319" width="1" height="1"/><rect x="104" y="318" width="2" height="1"/><rect x="106" y="317" width="1" height="1"/><rect x="107" y="316" width="2" height="1"/><rect x="109" y="315" width="3" height="1"/><rect x="112" y="314" width="2" height="1"/><rect x="114" y="313" width="2" height="1"/><rect x="116" y="312" width="2" height="1"/><rect x="118" y="311" width="3" height="1"/><rect x="121" y="310" width="3" height="1"/><rect x="124" y="309" width="3" height="1"/><rect x="127" y="308" width="3" height="1"/><rect x="130" y="307" width="3" height="1"/><rect x="133" y="306" width="4" height="1"/><rect x="137" y="305" width="3" height="1"/><rect x="140" y="304" width="3" height="1"/><rect x="143" y="303" width="2" height="1"/><rect x="145" y="302" width="3" height="1"/><rect x="148" y="301" width="3" height="1"/><rect x="151" y="300" width="3" height="1"/><rect x="154" y="299" width="3" height="1"/><rect x="157" y="298" width="6" height="1"/><rect x="163" y="297" width="7" height="1"/><rect x="170" y="296" width="6" height="1"/><rect x="176" y="295" width="6" height="1"/><rect x="182" y="294" width="6" height="1"/><rect x="188" y="293" width="5" height="1"/><rect x="193" y="292" width="5" height="1"/><rect x="198" y="291" width="5" height="1"/><rect x="203" y="290" width="5" height="1"/><rect x="208" y="289" width="6" height="1"/><rect x="214" y="288" width="7" height="1"/><rect x="221" y="287" width="6" height="1"/><rect x="227" y="286" width="6" height="1"/><rect x="233" y="285" width="5" height="1"/><rect x="238" y="284" width="4" height="1"/><rect x="242" y="283" width="4" height="1"/><rect x="246" y="282" width="3" height="1"/><rect x="249" y="281" width="3" height="1"/><rect x="252" y="280" width="4" height="1"/><rect x="256" y="279" width="4" height="1"/><rect x="260" y="278" width="3" height="1"/><rect x="263" y="277" width="4" height="1"/><rect x="267" y="276" width="3" height="1"/><rect x="270" y="275" width="4" height="1"/><rect x="274" y="274" width="3" height="1"/><rect x="277" y="273" width="4" height="1"/><rect x="281" y="272" width="4" height="1"/><rect x="285" y="271" width="4" height="1"/><rect x="289" y="270" width="4" height="1"/><rect x="293" y="269" width="3" height="1"/><rect x="296" y="268" width="3" height="1"/><rect x="299" y="267" width="4" height="1"/><rect x="303" y="266" width="3" height="1"/><rect x="306" y="265" width="4" height="1"/><rect x="310" y="264" width="4" height="1"/><rect x="314" y="263" width="3" height="1"/><rect x="317" y="262" width="4" height="1"/><rect x="321" y="261" width="3" height="1"/><rect x="324" y="260" width="4" height="1"/><rect x="328" y="259" width="4" height="1"/><rect x="332" y="258" width="3" height="1"/><rect x="335" y="257" width="4" height="1"/><rect x="339" y="256" width="4" height="1"/><rect x="343" y="255" width="4" height="1"/><rect x="347" y="254" width="5" height="1"/><rect x="352" y="253" width="3" height="1"/><rect x="355" y="252" width="3" height="1"/><rect x="358" y="251" width="4" height="1"/><rect x="362" y="250" width="3" height="1"/><rect x="365" y="249" width="4" height="1"/><rect x="369" y="248" width="4" height="1"/><rect x="373" y="247" width="3" height="1"/><rect x="376" y="246" width="5" height="1"/><rect x="381" y="245" width="4" height="1"/><rect x="385" y="244" width="4" height="1"/><rect x="389" y="243" width="5" height="1"/><rect x="394" y="242" width="4" height="1"/><rect x="398" y="241" width="4" height="1"/><rect x="402" y="240" width="3" height="1"/><rect x="405" y="239" width="3" height="1"/><rect x="408" y="238" width="3" height="1"/><rect x="411" y="237" width="5" height="1"/><rect x="416" y="236" width="5" height="1"/><rect x="421" y="235" width="6" height="1"/><rect x="427" y="234" width="5" height="1"/><rect x="432" y="233" width="5" height="1"/><rect x="437" y="232" width="5" height="1"/><rect x="442" y="231" width="7" height="1"/><rect x="449" y="230" width="6" height="1"/><rect x="455" y="229" width="8" height="1"/><rect x="463" y="228" width="7" height="1"/><rect x="470" y="227" width="6" height="1"/><rect x="476" y="226" width="6" height="1"/><rect x="482" y="225" width="6" height="1"/><rect x="488" y="224" width="5" height="1"/><rect x="493" y="223" width="6" height="1"/><rect x="499" y="222" width="6" height="1"/><rect x="505" y="221" width="6" height="1"/><rect x="511" y="220" width="5" height="1"/><rect x="516" y="219" width="4" height="1"/><rect x="520" y="218" width="4" height="1"/><rect x="524" y="217" width="5" height="1"/><rect x="529" y="216" width="5" height="1"/><rect x="534" y="215" width="4" height="1"/><rect x="538" y="214" width="4" height="1"/><rect x="542" y="213" width="4" height="1"/><rect x="546" y="212" width="3" height="1"/><rect x="549" y="211" width="3" height="1"/><rect x="552" y="210" width="4" height="1"/><rect x="556" y="209" width="6" height="1"/><rect x="562" y="208" width="5" height="1"/><rect x="567" y="207" width="4" height="1"/><rect x="571" y="206" width="3" height="1"/><rect x="574" y="205" width="4" height="1"/><rect x="578" y="204" width="4" height="1"/><rect x="582" y="203" width="3" height="1"/><rect x="585" y="202" width="3" height="1"/><rect x="588" y="201" width="2" height="1"/><rect x="590" y="200" width="3" height="1"/><rect x="593" y="199" width="1" height="1"/></g>
<g shape-rendering="crispEdges" fill="#000">
<rect x="621" y="0" width="1" height="402"/>
<rect x="0" y="402" width="621" height="1"/>
<rect x="622" y="16" width="7" height="1"/>
<rect x="622" y="61" width="7" height="1"/>
<rect x="622" y="108" width="7" height="1"/>
<rect x="622" y="158" width="7" height="1"/>
<rect x="622" y="210" width="7" height="1"/>
<rect x="622" y="266" width="7" height="1"/>
<rect x="622" y="325" width="7" height="1"/>
<rect x="622" y="388" width="7" height="1"/>
<rect x="622" y="8" width="3" height="1"/>
<rect x="622" y="25" width="3" height="1"/>
<rect x="622" y="34" width="3" height="1"/>
<rect x="622" y="44" width="3" height="1"/>
<rect x="622" y="52" width="3" height="1"/>
<rect x="622" y="71" width="3" height="1"/>
<rect x="622" y="80" width="3" height="1"/>
<rect x="622" y="89" width="3" height="1"/>
<rect x="622" y="99" width="3" height="1"/>
<rect x="622" y="118" width="3" height="1"/>
<rect x="622" y="128" width="3" height="1"/>
<rect x="622" y="137" width="3" height="1"/>
<rect x="622" y="148" width="3" height="1"/>
<rect x="622" y="168" width="3" height="1"/>
<rect x="622" y="178" width="3" height="1"/>
<rect x="622" y="189" width="3" height="1"/>
<rect x="622" y="199" width="3" height="1"/>
<rect x="622" y="221" width="3" height="1"/>
<rect x="622" y="232" width="3" height="1"/>
<rect x="622" y="243" width="3" height="1"/>
<rect x="622" y="255" width="3" height="1"/>
<rect x="622" y="277" width="3" height="1"/>
<rect x="622" y="288" width="3" height="1"/>
<rect x="622" y="301" width="3" height="1"/>
<rect x="622" y="313" width="3" height="1"/>
<rect x="622" y="337" width="3" height="1"/>
<rect x="622" y="349" width="3" height="1"/>
<rect x="622" y="362" width="3" height="1"/>
<rect x="622" y="375" width="3" height="1"/>
<rect x="48" y="402" width="1" height="18"/>
<rect x="92" y="402" width="1" height="18"/>
<rect x="144" y="402" width="1" height="18"/>
<rect x="196" y="402" width="1" height="18"/>
<rect x="246" y="402" width="1" height="18"/>
<rect x="301" y="402" width="1" height="18"/>
<rect x="350" y="402" width="1" height="18"/>
<rect x="404" y="402" width="1" height="18"/>
<rect x="456" y="402" width="1" height="18"/>
<rect x="501" y="402" width="1" height="18"/>
<rect x="553" y="402" width="1" height="18"/>
<rect x="600" y="402" width="1" height="18"/>
<rect x="1" y="402" width="1" height="5"/>
<rect x="14" y="402" width="1" height="5"/>
<rect x="25" y="402" width="1" height="5"/>
<rect x="37" y="402" width="1" height="5"/>
<rect x="61" y="402" width="1" height="5"/>
<rect x="70" y="402" width="1" height="5"/>
<rect x="80" y="402" width="1" height="5"/>
<rect x="101" y="402" width="1" height="5"/>
<rect x="113" y="402" width="1" height="5"/>
<rect x="125" y="402" width="1" height="5"/>
<rect x="137" y="402" width="1" height="5"/>
<rect x="149" y="402" width="1" height="5"/>
<rect x="160" y="402" width="1" height="5"/>
<rect x="173" y="402" width="1" height="5"/>
<rect x="184" y="402" width="1" height="5"/>
<rect x="209" y="402" width="1" height="5"/>
<rect x="220" y="402" width="1" height="5"/>
<rect x="232" y="402" width="1" height="5"/>
<rect x="243" y="402" width="1" height="5"/>
<rect x="256" y="402" width="1" height="5"/>
<rect x="267" y="402" width="1" height="5"/>
<rect x="279" y="402" width="1" height="5"/>
<rect x="292" y="402" width="1" height="5"/>
<rect x="303" y="402" width="1" height="5"/>
<rect x="315" y="402" width="1" height="5"/>
<rect x="327" y="402" width="1" height="5"/>
<rect x="339" y="402" width="1" height="5"/>
<rect x="363" y="402" width="1" height="5"/>
<rect x="375" y="402" width="1" height="5"/>
<rect x="386" y="402" width="1" height="5"/>
<rect x="399" y="402" width="1" height="5"/>
<rect x="410" y="402" width="1" height="5"/>
<rect x="422" y="402" width="1" height="5"/>
<rect x="434" y="402" width="1" height="5"/>
<rect x="446" y="402" width="1" height="5"/>
<rect x="458" y="402" width="1" height="5"/>
<rect x="470" y="402" width="1" height="5"/>
<rect x="482" y="402" width="1" height="5"/>
<rect x="493" y="402" width="1" height="5"/>
<rect x="510" y="402" width="1" height="5"/>
<rect x="522" y="402" width="1" height="5"/>
<rect x="534" y="402" width="1" height="5"/>
<rect x="545" y="402" width="1" height="5"/>
<rect x="558" y="402" width="1" height="5"/>
<rect x="570" y="402" width="1" height="5"/>
<rect x="581" y="402" width="1" height="5"/>
<rect x="594" y="402" width="1" height="5"/>
<rect x="605" y="402" width="1" height="5"/>
<rect x="617" y="402" width="1" height="5"/>
</g>
<g font-size="12">
<text transform="translate(665.3,23) scale(1,1.08)" text-anchor="end">10500</text>
<text transform="translate(665.3,67) scale(1,1.08)" text-anchor="end">10000</text>
<text transform="translate(665.3,115) scale(1,1.08)" text-anchor="end">9500</text>
<text transform="translate(665.3,164) scale(1,1.08)" text-anchor="end">9000</text>
<text transform="translate(665.3,216) scale(1,1.08)" text-anchor="end">8500</text>
<text transform="translate(665.3,272) scale(1,1.08)" text-anchor="end">8000</text>
<text transform="translate(665.3,331) scale(1,1.08)" text-anchor="end">7500</text>
<text transform="translate(665.3,394) scale(1,1.08)" text-anchor="end">7000</text>
<text transform="translate(50.7,417.8) scale(1,1.08)" textLength="22.6" lengthAdjust="spacingAndGlyphs">April</text>
<text transform="translate(94.3,417.8) scale(1,1.08)" textLength="19.9" lengthAdjust="spacingAndGlyphs">May</text>
<text transform="translate(145.6,417.8) scale(1,1.08)" textLength="26.2" lengthAdjust="spacingAndGlyphs">June</text>
<text transform="translate(197.6,417.8) scale(1,1.08)" textLength="20.3" lengthAdjust="spacingAndGlyphs">July</text>
<text transform="translate(248.7,417.8) scale(1,1.08)" textLength="36.6" lengthAdjust="spacingAndGlyphs">August</text>
<text transform="translate(303.7,417.8) scale(1,1.08)" textLength="58.2" lengthAdjust="spacingAndGlyphs">September</text>
<text transform="translate(405.4,417.8) scale(1,1.08)" textLength="53.6" lengthAdjust="spacingAndGlyphs">November</text>
<text transform="translate(504.0,417.8) scale(1,1.08)" textLength="25.2" lengthAdjust="spacingAndGlyphs">2007</text>
<text transform="translate(555.1,417.8) scale(1,1.08)" textLength="46.0" lengthAdjust="spacingAndGlyphs">February</text>
</g>
<text transform="scale(0.865,1)" y="29.7" font-size="15.3" x="338.50 353.53 366.71 379.65">MDAX</text>
<text transform="translate(512.5,386.1) scale(1,1.07)" font-size="10.7" textLength="92.5" lengthAdjust="spacingAndGlyphs">Hoppenstedt Charts</text>
</svg></body></html>
